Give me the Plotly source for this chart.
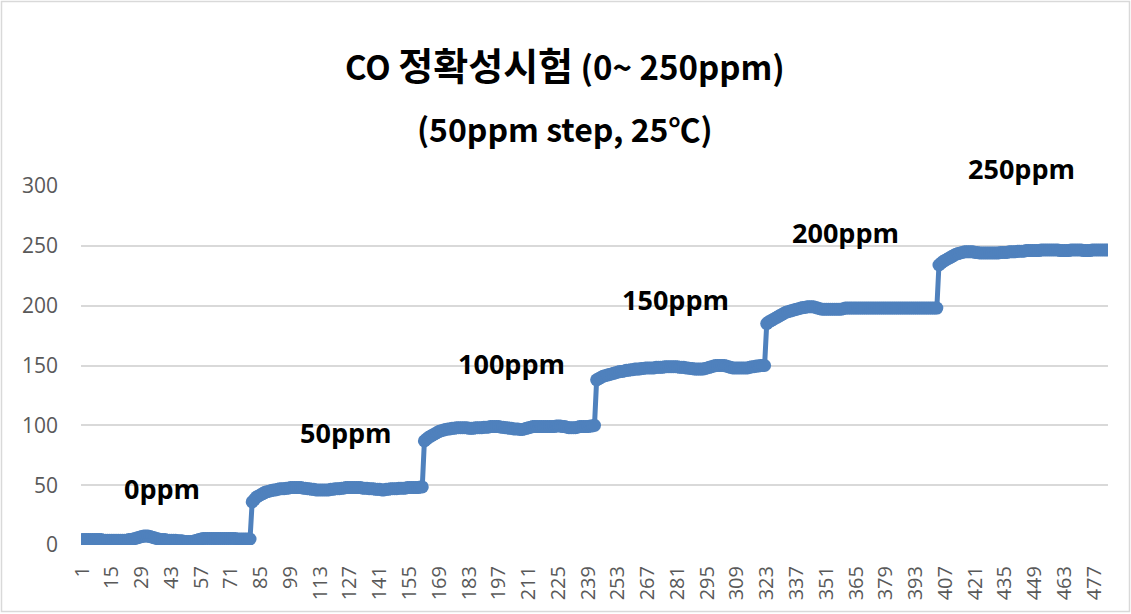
import plotly.graph_objects as go

# ---- data ----
seg_0ppm = [
    4.5, 4.5, 4.5, 4.5, 4.5, 4.5, 4.5, 4.5, 4.5, 4.5,
    4, 4, 4, 4, 4, 4, 4, 4, 4, 4,
    4, 4, 4.5, 4.5, 5, 5.5, 6, 6.5, 7, 7.5,
    7.5, 7.5, 7, 6.5, 6, 5.5, 5, 4.5, 4.5, 4.5,
    4, 4, 4, 4, 4, 3.5, 3.5, 3.5, 3, 3,
    3, 3, 3, 3.5, 4, 4.5, 5, 5.5, 5.5, 5.5,
    5.5, 5.5, 5.5, 5.5, 5.5, 5.5, 5.5, 5.5, 5.5, 5.5,
    5.5, 5.5, 5.5, 5, 5, 5, 5, 5, 5, 5,
]
seg_50ppm = [
    36, 38, 40, 41, 42, 43, 44, 44.5, 45, 45.5,
    46, 46, 46.5, 47, 47, 47, 47.5, 47.5, 48, 48,
    48, 48, 48, 48, 47.5, 47.5, 47, 47, 46.5, 46.5,
    46, 46, 46, 46, 46, 46, 46, 46.5, 46.5, 47,
    47, 47, 47.5, 47.5, 48, 48, 48, 48, 48, 48,
    48, 48, 47.5, 47.5, 47.5, 47, 47, 47, 46.5, 46.5,
    46.5, 46, 46, 46.5, 46.5, 47, 47, 47, 47, 47.5,
    47.5, 47.5, 47.5, 48, 48, 48, 48, 48, 48, 48.5,
    48.5,
]
seg_100ppm = [
    87, 88.5, 90, 91, 92, 93, 94, 95, 95.5, 96,
    96.5, 97, 97, 97.5, 97.5, 98, 98, 98, 98, 98,
    98, 97.5, 97.5, 97.5, 98, 98, 98, 98, 98.5, 98.5,
    98.5, 99, 99, 99, 99, 99, 98.5, 98.5, 98, 98,
    97.5, 97.5, 97, 97, 97, 96.5, 96.5, 97, 97.5, 98,
    98.5, 99, 99, 99, 99, 99, 99, 99, 99, 99,
    99, 99, 99.5, 99.5, 99.5, 99, 99, 98.5, 98, 98,
    98, 98, 98.5, 99, 99, 99, 99, 99, 99.5, 99.5,
    100,
]
seg_150ppm = [
    138, 139, 140, 141, 141.5, 142, 142.5, 143, 143.5, 144,
    144.5, 145, 145, 145.5, 146, 146, 146.5, 146.5, 147, 147,
    147, 147.5, 147.5, 148, 148, 148, 148, 148, 148.5, 148.5,
    148.5, 148.5, 149, 149, 149, 149, 149, 149, 149, 148.5,
    148.5, 148.5, 148, 148, 147.5, 147.5, 147, 147, 147, 147,
    147, 147.5, 148, 148.5, 149, 149.5, 150, 150, 150, 150,
    150, 149.5, 149, 148.5, 148, 148, 148, 148, 148, 148,
    148, 148, 148.5, 149, 149, 149.5, 149.5, 150, 150, 150,
]
seg_200ppm = [
    185, 186.5, 187.5, 188.5, 189.5, 190.5, 191.5, 192.5, 193.5, 194.5,
    195, 195.5, 196, 196.5, 197, 197.5, 198, 198.5, 198.5, 199,
    199, 199, 199, 198.5, 198, 197.5, 197, 197, 197, 197,
    197, 197, 197, 197, 197, 197, 197.5, 198, 198, 198,
    198, 198, 198, 198, 198, 198, 198, 198, 198, 198,
    198, 198, 198, 198, 198, 198, 198, 198, 198, 198,
    198, 198, 198, 198, 198, 198, 198, 198, 198, 198,
    198, 198, 198, 198, 198, 198, 198, 198, 198, 198,
    198,
]
seg_250ppm = [
    234, 235.5, 237, 238, 239, 240, 241, 242, 243, 243.5,
    244, 244.5, 245, 245, 245, 245, 245, 244.5, 244.5, 244,
    244, 244, 244, 244, 244, 244, 244, 244, 244, 244.5,
    244.5, 244.5, 244.5, 245, 245, 245, 245, 245.5, 245.5, 245.5,
    245.5, 246, 246, 246, 246, 246, 246, 246, 246.5, 246.5,
    246.5, 246.5, 246.5, 246.5, 246.5, 246.5, 246.5, 246, 246, 246,
    246, 246, 246.5, 246.5, 246.5, 246.5, 246.5, 246.5, 246, 246,
    246, 246, 246.5, 246.5, 246.5, 246.5, 246.5, 246.5, 246.5, 246.5,
]

step_labels = ["0ppm", "50ppm", "100ppm", "150ppm", "200ppm", "250ppm"]
# label anchor positions (sample index, value)
step_label_x = [38.5, 125, 203, 280, 360, 443]
step_label_y = [47, 94, 152, 205, 261, 315]

tick_labels = ["1", "15", "29", "43", "57", "71", "85", "99", "113", "127",
               "141", "155", "169", "183", "197", "211", "225", "239", "253",
               "267", "281", "295", "309", "323", "337", "351", "365", "379",
               "393", "407", "421", "435", "449", "463", "477"]
y_ticks = [0, 50, 100, 150, 200, 250, 300]

values = seg_0ppm + seg_50ppm + seg_100ppm + seg_150ppm + seg_200ppm + seg_250ppm
samples = list(range(1, len(values) + 1))

# ---- layout geometry (pixels) ----
W, H = 1131, 614
L, R, T, B = 81, 23, 186, 69
pw, ph = W - L - R, H - T - B
Y_MAX = 300


def px_to_paper_x(px):
    return (px - L) / pw


def px_to_paper_y(py):
    return (H - B - py) / ph


BLUE = "#4F81BD"
GRID = "#D9D9D9"

fig = go.Figure()
fig.add_trace(go.Scatter(
    x=samples, y=values, mode="lines+markers",
    line=dict(color=BLUE, width=5),
    marker=dict(color=BLUE, size=13, line=dict(width=0)),
    showlegend=False, hoverinfo="x+y",
))

for txt, xv, yv in zip(step_labels, step_label_x, step_label_y):
    fig.add_annotation(x=xv, y=yv / Y_MAX, xref="x", yref="paper", text=f"<b>{txt}</b>",
                       showarrow=False, xanchor="center", yanchor="middle",
                       font=dict(family="Open Sans, Noto Sans", size=27, color="#000000"))

fig.add_annotation(x=px_to_paper_x(565), y=px_to_paper_y(63), xref="paper", yref="paper",
                   text="<b>CO <span style='font-size:38px'>정확성시험</span> (0~ 250ppm)</b>",
                   showarrow=False, xanchor="center", yanchor="middle",
                   font=dict(family="Noto Sans CJK KR", size=33, color="#000000"))
fig.add_annotation(x=px_to_paper_x(565), y=px_to_paper_y(128), xref="paper", yref="paper",
                   text="<b>(50ppm step, 25℃)</b>", showarrow=False,
                   xanchor="center", yanchor="middle",
                   font=dict(family="Noto Sans CJK KR", size=32, color="#000000"))

# outer chart border
fig.add_shape(type="rect", xref="paper", yref="paper",
              x0=px_to_paper_x(1.5), x1=px_to_paper_x(1129.5),
              y0=px_to_paper_y(611.5), y1=px_to_paper_y(1.5),
              line=dict(color=GRID, width=1.5), layer="below")

fig.update_layout(
    width=W, height=H,
    margin=dict(l=L, r=R, t=T, b=B, pad=0),
    paper_bgcolor="white", plot_bgcolor="white",
    font=dict(family="Open Sans, Noto Sans", color="#595959"),
    xaxis=dict(
        range=[0.5, len(values) + 0.5],
        tickmode="array",
        tickvals=[int(t) for t in tick_labels], ticktext=tick_labels,
        tickangle=-90, tickfont=dict(size=20, color="#595959"),
        ticklabelstandoff=16,
        showgrid=False, zeroline=False, showline=False, ticks="",
        fixedrange=True,
    ),
    yaxis=dict(
        range=[0, Y_MAX], tickmode="array", tickvals=y_ticks,
        tickfont=dict(size=21, color="#595959"),
        ticklabelstandoff=22,
        showgrid=True, gridcolor=GRID, gridwidth=1.5,
        zeroline=False, showline=False, ticks="", ticklen=0,
        fixedrange=True,
    ),
)

fig.write_html("out.html", config={"displayModeBar": False},
               post_script="document.body.style.margin='0px';")
